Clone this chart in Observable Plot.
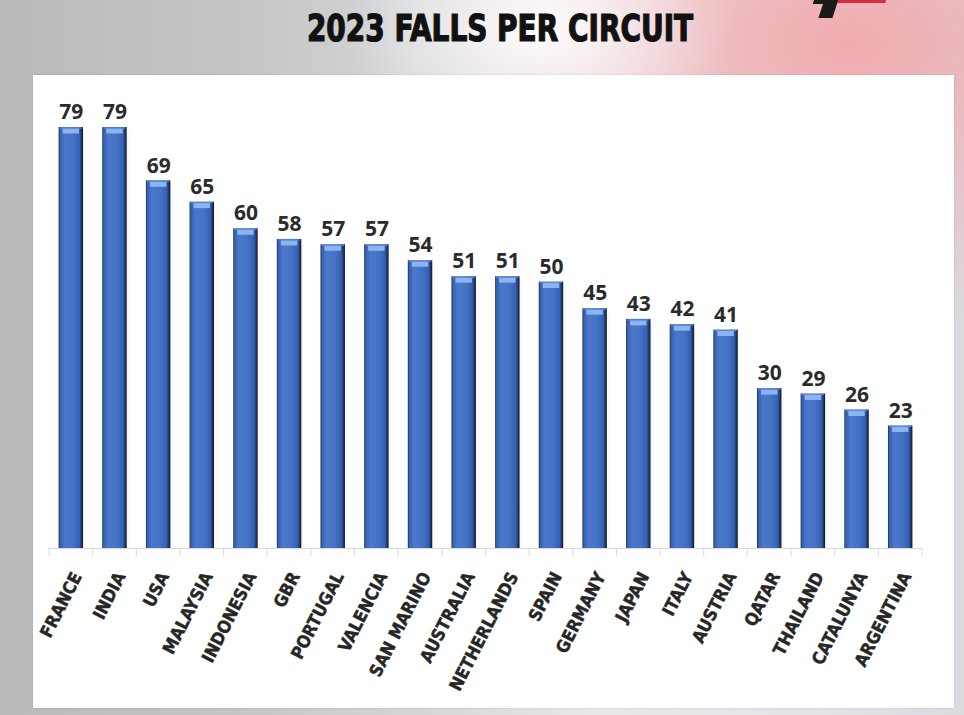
<!DOCTYPE html>
<html>
<head>
<meta charset="utf-8">
<script src="https://cdn.jsdelivr.net/npm/d3@7"></script>
<script src="https://cdn.jsdelivr.net/npm/@observablehq/plot@0.6"></script>
<style>
  html, body { margin: 0; padding: 0; }
  #page {
    position: relative; width: 964px; height: 715px; overflow: hidden;
    background:
      radial-gradient(ellipse 260px 170px at 56% 4%, rgba(255,255,255,0.95), rgba(255,255,255,0) 75%),
      radial-gradient(ellipse 540px 360px at 88% 6%, rgba(242,168,172,0.95), rgba(242,168,172,0) 80%),
      linear-gradient(90deg, #b8b9bb 0%, #c4c5c7 25%, #d6d7d9 45%, #e8e8ea 62%, #e2e3e7 85%, #d9dbe0 100%);
  }
  #title {
    position: absolute; left: 0; top: 10px; width: 1000px; text-align: center;
    white-space: nowrap; font-family: "DejaVu Sans Condensed", "DejaVu Sans", sans-serif;
    font-weight: bold; font-size: 37px; line-height: 1; color: #111;
    -webkit-text-stroke: 1.2px #111; transform: scaleX(0.84); transform-origin: 500px 50%;
  }
  #logo1 {
    position: absolute; left: 822px; top: -4px; width: 14px; height: 22px; background: #1a1a1a;
    transform: skewX(-18deg);
  }
  #logo2 {
    position: absolute; left: 814px; top: -4px; width: 18px; height: 8px; background: #1a1a1a;
    transform: skewX(-18deg);
  }
  #logo3 {
    position: absolute; left: 838px; top: -2px; width: 48px; height: 5px; background: #d4142e;
    transform: skewX(-18deg); opacity: 0.85;
  }
  #panel {
    position: absolute; left: 33px; top: 75px; width: 921px; height: 633px; background: #fff;
    box-shadow: 0 0 2px rgba(0,0,0,0.12);
  }
  #panel svg { position: absolute; left: 0; top: 0; }
</style>
</head>
<body>
<div id="page">
  <div id="title">2023 FALLS PER CIRCUIT</div>
  <div id="logo2"></div><div id="logo1"></div><div id="logo3"></div>
  <div id="panel"></div>
</div>
<script>
const circuits = ["FRANCE","INDIA","USA","MALAYSIA","INDONESIA","GBR","PORTUGAL","VALENCIA","SAN MARINO","AUSTRALIA","NETHERLANDS","SPAIN","GERMANY","JAPAN","ITALY","AUSTRIA","QATAR","THAILAND","CATALUNYA","ARGENTINA"];
const falls = [79,79,69,65,60,58,57,57,54,51,51,50,45,43,42,41,30,29,26,23];

const data = circuits.map((c, i) => ({circuit: c, falls: falls[i]}));

const W = 921, H = 633, ML = 16, MR = 32, MT = 52, MB = 160;

function defsMark() {
  const defs = d3.create("svg:defs");
  const g = defs.append("linearGradient").attr("id", "barGrad")
    .attr("x1", 0).attr("x2", 1).attr("y1", 0).attr("y2", 0);
  [[0, "#1a2c55"], [0.06, "#3861ad"], [0.25, "#4a78cc"], [0.6, "#4572c5"], [0.85, "#3360b0"], [0.94, "#1d3566"], [1, "#0b1428"]]
    .forEach(([o, c]) => g.append("stop").attr("offset", o).attr("stop-color", c));
  const s = defs.append("linearGradient").attr("id", "shadowGrad")
    .attr("x1", 0).attr("x2", 1).attr("y1", 0).attr("y2", 0);
  [[0, "#f5b48a", 0.9], [1, "#fde3d2", 0.2]]
    .forEach(([o, c, op]) => s.append("stop").attr("offset", o).attr("stop-color", c).attr("stop-opacity", op));
  return defs.node();
}

function boundaryTicks(index, scales, values, dimensions) {
  const sx = scales.x;
  const n = circuits.length;
  const step = typeof sx.step === "function" ? sx.step() : (dimensions.width - dimensions.marginLeft - dimensions.marginRight) / n;
  const bw = typeof sx.bandwidth === "function" ? sx.bandwidth() : step * 0.56;
  const y0 = scales.y(0);
  const xs = circuits.map(c => sx(c) + bw / 2 - step / 2);
  xs.push(sx(circuits[n - 1]) + bw / 2 + step / 2);
  const g = d3.create("svg:g").attr("stroke", "#d9d9d9").attr("stroke-width", 1);
  g.append("line").attr("x1", xs[0]).attr("x2", xs[n]).attr("y1", y0 + 0.5).attr("y2", y0 + 0.5);
  xs.forEach(x => g.append("line").attr("x1", x).attr("x2", x).attr("y1", y0).attr("y2", y0 + 8));
  return g.node();
}

const chart = Plot.plot({
  width: W, height: H,
  marginLeft: ML, marginRight: MR, marginTop: MT, marginBottom: MB,
  style: {background: "transparent", overflow: "visible"},
  x: {domain: circuits, paddingInner: 0.44, paddingOuter: 0.22, round: false, axis: null},
  y: {domain: [0, 79], axis: null},
  marks: [
    defsMark,
    Plot.barY(data, {x: "circuit", y: "falls", fill: "url(#shadowGrad)", dx: 3, insetTop: 5}),
    Plot.barY(data, {x: "circuit", y: "falls", fill: "url(#barGrad)"}),
    Plot.tickY(data, {x: "circuit", y: "falls", dy: 3.5, stroke: "#8db4f2", strokeWidth: 5, insetLeft: 4, insetRight: 4}),
    Plot.tickY(data, {x: "circuit", y: "falls", dy: 0.5, stroke: "#5f8ad8", strokeWidth: 1, insetLeft: 1, insetRight: 1}),
    boundaryTicks,
    Plot.text(data, {
      x: "circuit", y: "falls", text: d => String(d.falls), dy: -15,
      fontSize: 21, fontWeight: "bold", fill: "#2b2b2b",
      fontFamily: "'Open Sans', 'DejaVu Sans', sans-serif"
    }),
    Plot.text(circuits, {
      x: d => d, frameAnchor: "bottom", text: d => d,
      rotate: -63, textAnchor: "end", lineAnchor: "middle",
      dx: 6, dy: 25, fontSize: 17.5, fontWeight: "bold", fill: "#262626",
      stroke: "#262626", strokeWidth: 0.4,
      fontFamily: "'DejaVu Sans Condensed', 'DejaVu Sans', sans-serif"
    })
  ]
});
document.getElementById("panel").appendChild(chart);
</script>
</body>
</html>
